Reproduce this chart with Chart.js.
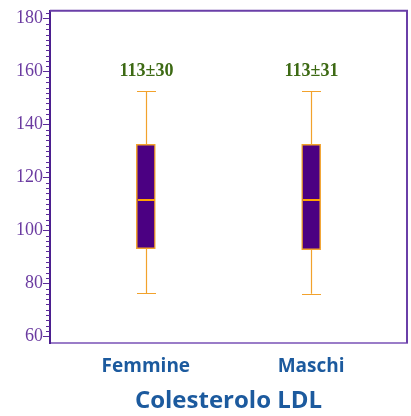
<!DOCTYPE html>
<html>
<head>
<meta charset="utf-8">
<script src="https://cdn.jsdelivr.net/npm/chart.js@4"></script>
<style>
  html, body { margin: 0; padding: 0; background: #fff; }
  #wrap { width: 411px; height: 416px; }
</style>
</head>
<body>
<div id="wrap"><canvas id="c"></canvas></div>
<script>
const categories = ['Femmine', 'Maschi'];
const whiskerMin = [76.2, 76];
const q1 = [93.1, 92.7];
const median = [111.3, 111.3];
const q3 = [132.5, 132.5];
const whiskerMax = [152.7, 152.7];
const meanLabels = ['113±30', '113±31'];
const yTicks = [60, 80, 100, 120, 140, 160, 180];

const purple = '#5b2a9a';
const orange = '#f2a22c';

// whiskers, caps, medians, mean labels, minor ticks and frame
const boxExtras = {
  id: 'boxExtras',
  afterDatasetsDraw(chart) {
    const ctx = chart.ctx;
    const x = chart.scales.x, y = chart.scales.y;
    const a = chart.chartArea;
    const half = 9.5;
    ctx.save();
    categories.forEach((c, i) => {
      const px = Math.round(x.getPixelForValue(i)) + 0.5;
      ctx.strokeStyle = orange;
      ctx.lineWidth = 1.2;
      ctx.beginPath();
      ctx.moveTo(px, y.getPixelForValue(q3[i]));
      ctx.lineTo(px, y.getPixelForValue(whiskerMax[i]));
      ctx.moveTo(px, y.getPixelForValue(q1[i]));
      ctx.lineTo(px, y.getPixelForValue(whiskerMin[i]));
      [whiskerMax[i], whiskerMin[i]].forEach(v => {
        const py = Math.round(y.getPixelForValue(v)) + 0.5;
        ctx.moveTo(px - half, py);
        ctx.lineTo(px + half, py);
      });
      ctx.stroke();

      // median
      ctx.strokeStyle = '#ffa500';
      ctx.lineWidth = 2;
      ctx.beginPath();
      const pm = Math.round(y.getPixelForValue(median[i]));
      ctx.moveTo(px - half + 1, pm);
      ctx.lineTo(px + half - 1, pm);
      ctx.stroke();

      ctx.fillStyle = '#3d6a14';
      ctx.font = 'bold 18px "Liberation Serif"';
      ctx.textAlign = 'center';
      ctx.textBaseline = 'middle';
      ctx.fillText(meanLabels[i], px, y.getPixelForValue(160));
    });

    // minor ticks every 2
    ctx.strokeStyle = purple;
    ctx.lineWidth = 1;
    ctx.beginPath();
    for (let v = 60; v <= 182; v += 2) {
      if (v % 20 === 0) continue;
      const py = Math.round(y.getPixelForValue(v)) + 0.5;
      ctx.moveTo(a.left - 4, py);
      ctx.lineTo(a.left, py);
    }
    ctx.stroke();

    // top and right frame
    ctx.strokeStyle = '#6a3fa8';
    ctx.lineWidth = 2;
    ctx.beginPath();
    ctx.moveTo(a.left, a.top);
    ctx.lineTo(a.right, a.top);
    ctx.lineTo(a.right, a.bottom);
    ctx.stroke();
    ctx.restore();
  }
};

new Chart(document.getElementById('c'), {
  type: 'bar',
  data: {
    datasets: [{
      data: categories.map((c, i) => ({ x: i, y: [q1[i], q3[i]] })),
      backgroundColor: '#4b0082',
      borderColor: orange,
      borderWidth: 1.5,
      borderSkipped: false,
      barThickness: 19
    }]
  },
  options: {
    responsive: true,
    maintainAspectRatio: false,
    animation: false,
    layout: { padding: { top: 9, right: 4, left: 0, bottom: 0 } },
    plugins: {
      legend: { display: false },
      tooltip: { enabled: false }
    },
    scales: {
      x: {
        type: 'linear',
        offset: false,
        min: -0.58,
        max: 1.58,
        afterBuildTicks: (s) => { s.ticks = categories.map((c, i) => ({ value: i })); },
        afterFit: (s) => { s.height = 73; },
        grid: { display: false },
        border: { display: true, color: '#9a7cc8', width: 2 },
        ticks: {
          callback: (v) => categories[v],
          color: '#1c5a9e',
          font: { family: '"Open Sans"', size: 19, weight: '700' },
          padding: 4,
          maxRotation: 0
        },
        title: {
          display: true,
          text: 'Colesterolo LDL',
          color: '#1c5a9e',
          font: { family: '"Open Sans"', size: 24, weight: '700' },
          padding: { top: 2, bottom: 0 }
        }
      },
      y: {
        min: 57.4,
        max: 183,
        afterBuildTicks: (s) => { s.ticks = yTicks.map(v => ({ value: v })); },
        afterFit: (s) => { s.width = 50; },
        grid: { drawOnChartArea: false, drawTicks: true, tickLength: 7, tickColor: purple, tickWidth: 1 },
        border: { display: true, color: '#4b1f8f', width: 2 },
        ticks: {
          color: '#6a3aa0',
          font: { family: '"Liberation Serif"', size: 18 },
          padding: 0
        }
      }
    }
  },
  plugins: [boxExtras]
});
</script>
</body>
</html>
